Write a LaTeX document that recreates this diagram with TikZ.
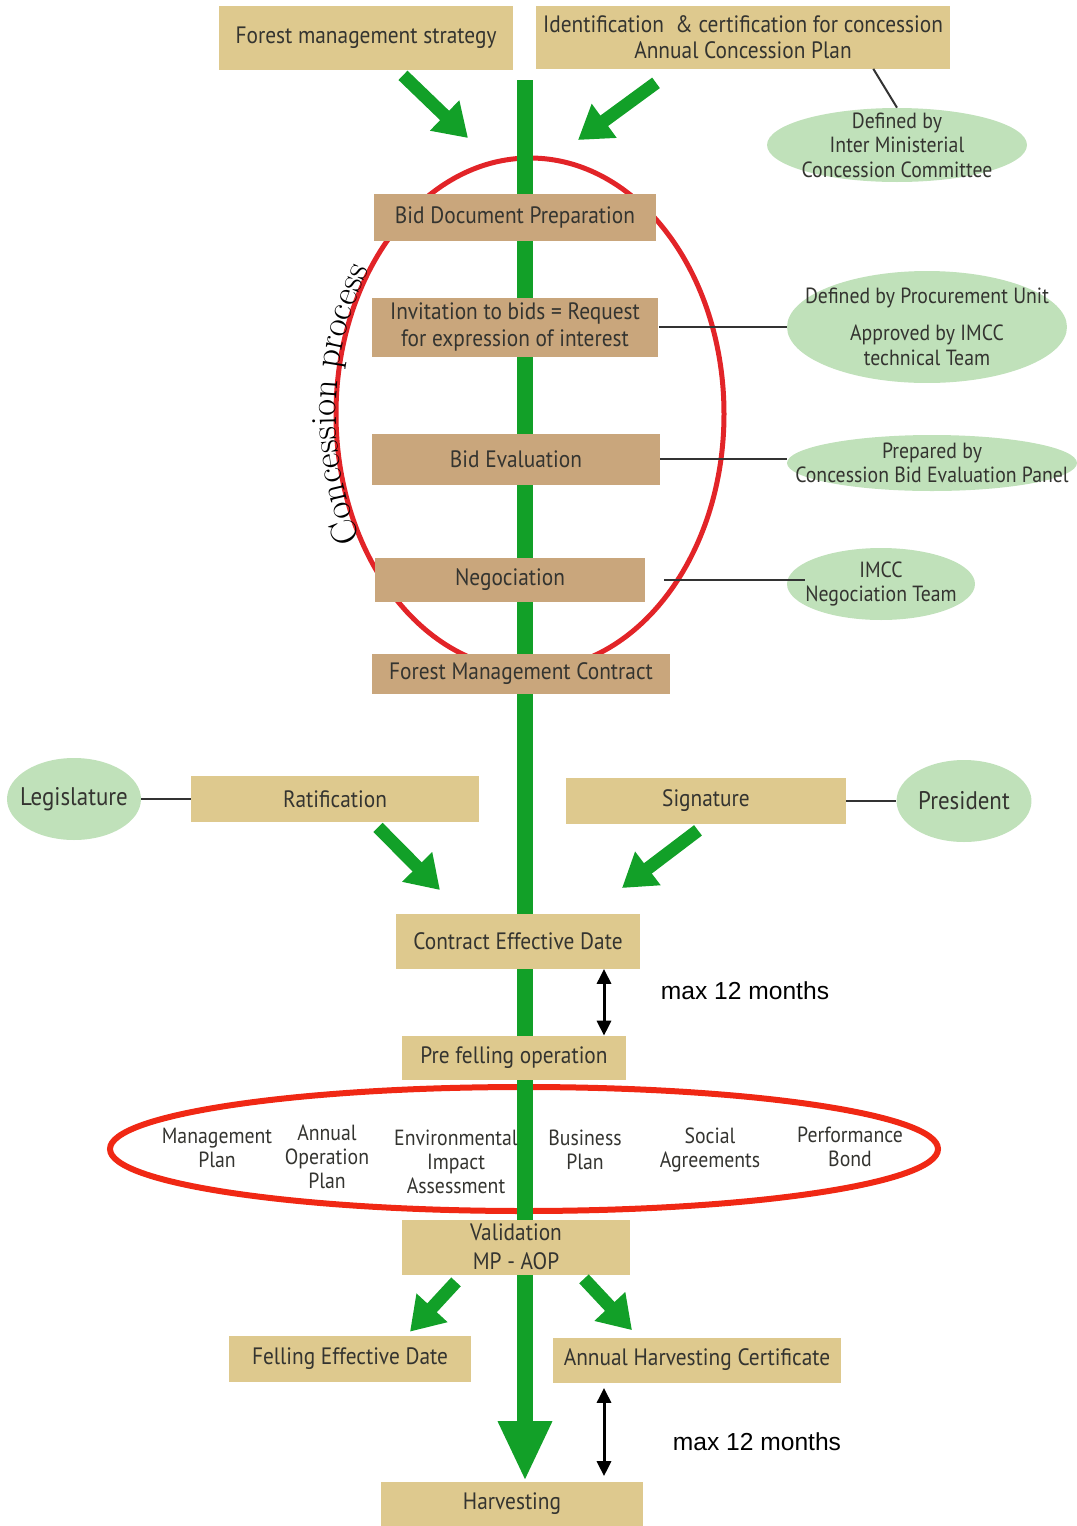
\documentclass[tikz,border=0pt]{standalone}
\usepackage{fontspec}
\usepackage{tikz}
\usetikzlibrary{shapes.geometric,arrows.meta,backgrounds,decorations.text}

\newfontfamily\boxfont{PT Sans}[FakeStretch=0.9]
\newfontfamily\notefont{Liberation Sans}

\definecolor{woodtan}{RGB}{222,201,142}
\definecolor{woodbrown}{RGB}{201,166,124}
\definecolor{trunkgreen}{RGB}{18,160,40}
\definecolor{leafgreen}{RGB}{192,225,186}
\definecolor{ringred}{RGB}{226,36,40}
\definecolor{loopred}{RGB}{240,40,20}
\definecolor{inkgray}{RGB}{52,52,48}

\tikzset{
	plank/.style={fill=woodtan, inner sep=0pt, align=center, text=inkgray,
		font=\boxfont\fontsize{13.5}{15}\selectfont},
	bark/.style={plank, fill=woodbrown},
	leaf/.style={ellipse, fill=leafgreen, inner sep=-1.5cm, align=center, text=inkgray,
		font=\boxfont\fontsize{12.5}{14}\selectfont},
	item/.style={align=center, text=inkgray, font=\boxfont\fontsize{12.5}{13.5}\selectfont},
	note/.style={font=\notefont\fontsize{14}{16}\selectfont},
	feed/.style={trunkgreen, line width=0.26cm, -{Triangle[length=0.65cm,width=0.8cm]}},
	trunk/.style={trunkgreen, line width=0.32cm, -{Triangle[length=1.2cm,width=1.0cm]}},
	tie/.style={black!80, line width=0.04cm},
	period/.style={black, line width=0.06cm, {Triangle[length=0.3cm,width=0.28cm]}-{Triangle[length=0.3cm,width=0.28cm]}},
	ring/.style={ringred, line width=0.1cm}
}

\begin{document}
\begin{tikzpicture}[x=0.02cm, y=0.02cm]
	\useasboundingbox (0,-1526) rectangle (1076,0);

	% top of the chain
	\node[plank, minimum width=5.88cm, minimum height=1.28cm] (fms) at (366,-38) {Forest management strategy};
	\node[plank, minimum width=8.28cm, minimum height=1.26cm] (icc) at (743,-37) {Identification \ \& certification for concession\\Annual Concession Plan};
	\node[leaf, minimum width=5.2cm, minimum height=1.48cm] (imcc) at (897,-145) {Defined by\\Inter Ministerial\\Concession Committee};

	% concession process
	\node[bark, minimum width=5.64cm, minimum height=0.94cm] (bdp) at (515,-217) {Bid Document Preparation};
	\node[bark, minimum width=5.74cm, minimum height=1.18cm] (itb) at (515,-327) {Invitation to bids = Request\\for expression of interest};
	\node[leaf, minimum width=5.6cm, minimum height=2.24cm] (pu) at (927,-327) {Defined by Procurement Unit\\[7pt]Approved by IMCC\\technical Team};
	\node[bark, minimum width=5.76cm, minimum height=1.02cm] (be) at (516,-459) {Bid Evaluation};
	\node[leaf, minimum width=5.8cm, minimum height=1.12cm] (cbep) at (932,-463) {Prepared by\\Concession Bid Evaluation Panel};
	\node[bark, minimum width=5.42cm, minimum height=0.88cm] (neg) at (510,-580) {Negociation};
	\node[leaf, minimum width=3.76cm, minimum height=1.44cm] (negteam) at (881,-584) {IMCC\\Negociation Team};
	\node[bark, minimum width=5.96cm, minimum height=0.8cm] (fmc) at (521,-674) {Forest Management Contract};

	% contract
	\node[leaf, minimum width=2.68cm, minimum height=1.64cm, font=\boxfont\fontsize{14.5}{16}\selectfont] (leg) at (74,-799) {Legislature};
	\node[plank, minimum width=5.76cm, minimum height=0.92cm] (rat) at (335,-799) {Ratification};
	\node[plank, minimum width=5.6cm, minimum height=0.92cm] (sig) at (706,-801) {Signature};
	\node[leaf, minimum width=2.7cm, minimum height=1.64cm, font=\boxfont\fontsize{14.5}{16}\selectfont] (pres) at (964,-801) {President};
	\node[plank, minimum width=4.88cm, minimum height=1.1cm] (ced) at (518,-941) {Contract Effective Date};
	\node[plank, minimum width=4.48cm, minimum height=0.88cm] (pfo) at (514,-1058) {Pre felling operation};

	% pre felling documents
	\node[item] (mp) at (217,-1148) {Management\\Plan};
	\node[item] (aop) at (327,-1157) {Annual\\Operation\\Plan};
	\node[item] (eia) at (456,-1162) {Environmental\\Impact\\Assessment};
	\node[item] (bp) at (585,-1150) {Business\\Plan};
	\node[item] (sa) at (710,-1150) {Social\\Agreements};
	\node[item] (pb) at (850,-1147) {Performance\\Bond};

	% felling
	\node[plank, minimum width=4.58cm, minimum height=1.1cm, font=\boxfont\fontsize{13.5}{16.5}\selectfont] (val) at (516,-1247) {Validation\\MP - AOP};
	\node[plank, minimum width=4.86cm, minimum height=0.92cm] (fed) at (350,-1359) {Felling Effective Date};
	\node[plank, minimum width=5.78cm, minimum height=0.9cm] (ahc) at (697,-1360) {Annual Harvesting Certificate};
	\node[plank, minimum width=5.24cm, minimum height=0.9cm] (harv) at (512,-1504) {Harvesting};

	\node[note] (lag1) at (745,-991) {max 12 months};
	\node[note] (lag2) at (757,-1442) {max 12 months};

	\coordinate (root) at (525,-80);
	\coordinate (lagx) at (604,0);
	\coordinate (fmsin) at (468,-138);
	\coordinate (iccin) at (578,-140);
	\coordinate (ratin) at (440,-890);
	\coordinate (sigin) at (622,-888);

	\begin{scope}[on background layer]
		\draw[ring] (530,-414) ellipse [x radius=194, y radius=256];
		\draw[loopred, line width=0.12cm] (524,-1149) ellipse [x radius=414, y radius=62];
		\draw[trunk] (root) -- (root |- harv.north);
	\end{scope}

	\path[decorate, decoration={text along path, text align=center,
		text={|\fontsize{21}{21}\selectfont|Concession process}}]
		(530,-414) ++(212:194 and 256) arc [start angle=212, end angle=143, x radius=194, y radius=256];

	% green feeds
	\draw[feed] ([xshift=0.74cm,yshift=-0.1cm]fms.south) -- (fmsin);
	\draw[feed] ([xshift=-1.74cm,yshift=-0.28cm]icc.south) -- (iccin);
	\draw[feed] ([xshift=0.86cm,yshift=-0.1cm]rat.south) -- (ratin);
	\draw[feed] ([xshift=-0.16cm,yshift=-0.12cm]sig.south) -- (sigin);
	\draw[feed] ([xshift=-1.2cm,yshift=-0.14cm]val.south) -- ([xshift=1.2cm,yshift=0.08cm]fed.north);
	\draw[feed] ([xshift=1.36cm,yshift=-0.08cm]val.south) -- ([xshift=-1.3cm,yshift=0.14cm]ahc.north);

	% who does what
	\draw[tie] ([xshift=-1.54cm]icc.south east) -- (imcc.north);
	\draw[tie] (itb.east) -- (pu.west);
	\draw[tie] (be.east) -- (be.east -| cbep.west);
	\draw[tie] ([xshift=0.36cm]neg.east) -- ([xshift=0.36cm]neg.east -| negteam.west);
	\draw[tie] (leg.east) -- (rat.west);
	\draw[tie] (sig.east) -- (pres.west);

	% delays
	\draw[period] (ced.south -| lagx) -- (pfo.north -| lagx);
	\draw[period, shorten <=0.1cm, shorten >=0.1cm] (ahc.south -| lagx) -- (harv.north -| lagx);
\end{tikzpicture}
\end{document}
